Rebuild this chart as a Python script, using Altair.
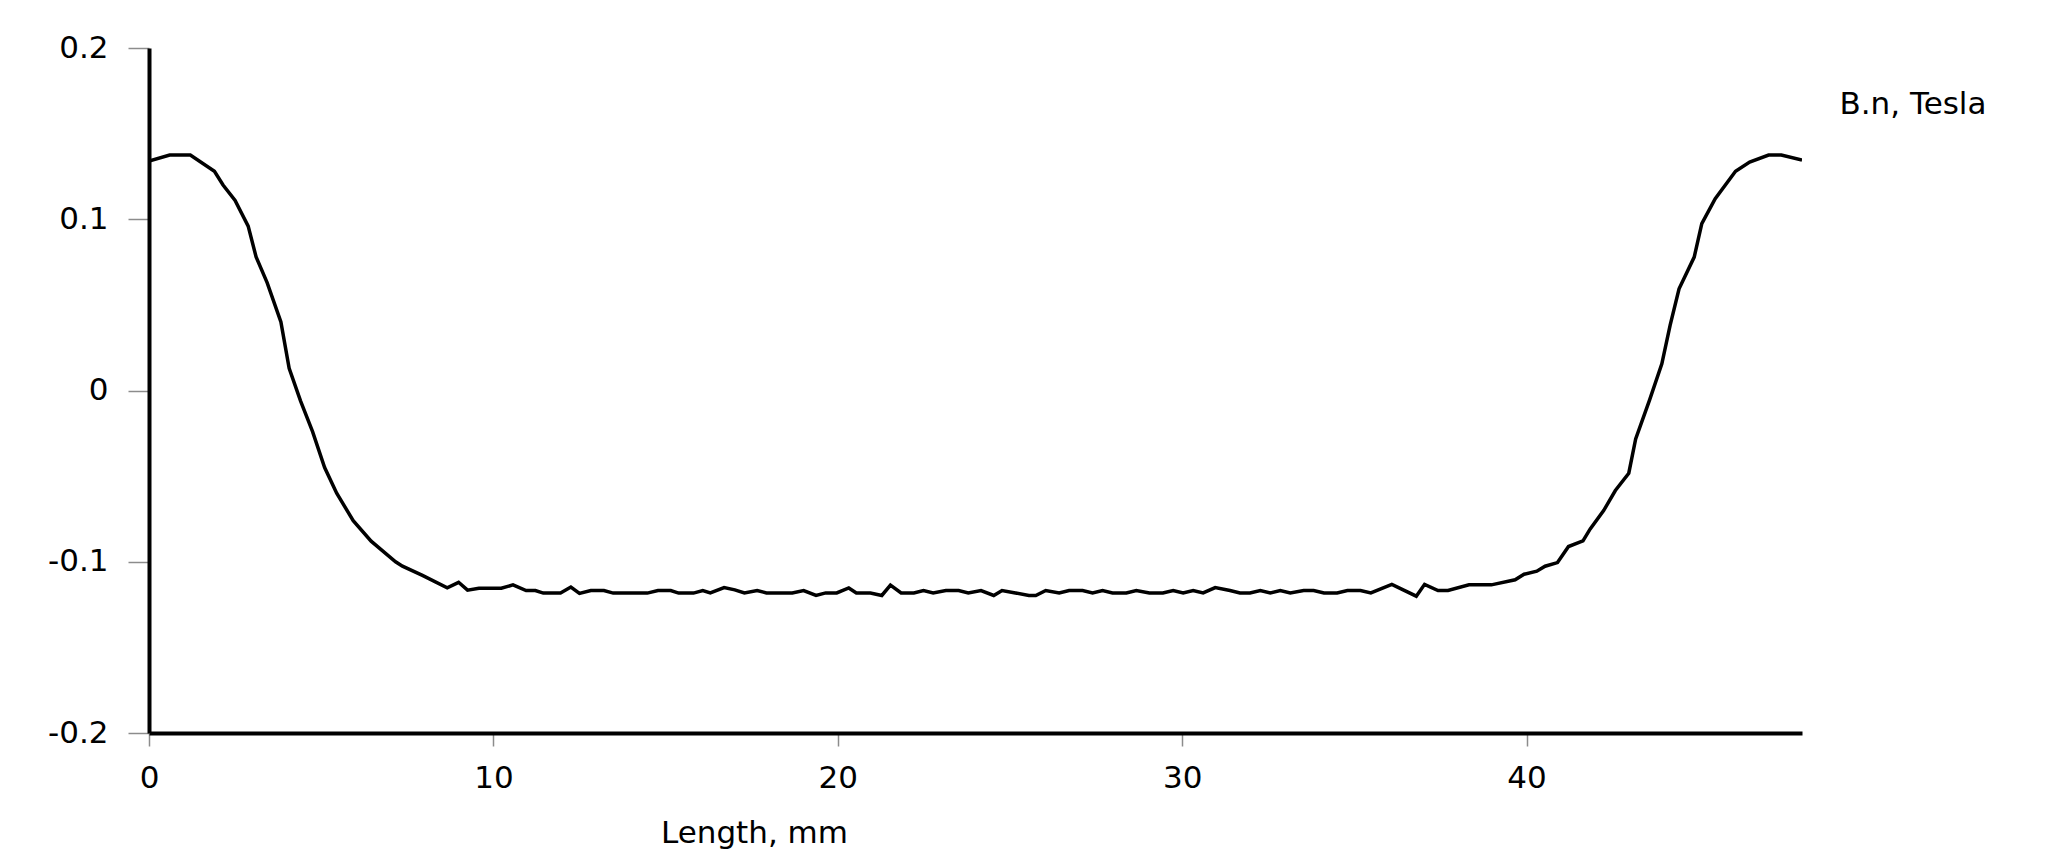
import altair as alt
import pandas as pd

length_mm = [
    0.0, 0.6, 1.2, 1.9, 2.15, 2.5, 2.88, 3.11, 3.43, 3.83, 4.07, 4.4, 4.75, 5.1, 5.45,
    5.93, 6.45, 7.16, 7.36, 7.94, 8.66, 8.99, 9.25, 9.58, 10.23, 10.57, 10.95, 11.22,
    11.45, 11.95, 12.25, 12.5, 12.83, 13.21, 13.48, 14.47, 14.78, 15.15, 15.38, 15.81,
    16.08, 16.3, 16.7, 17.01, 17.29, 17.66, 17.93, 18.68, 19.01, 19.37, 19.65, 19.97,
    20.32, 20.54, 20.95, 21.28, 21.53, 21.84, 22.21, 22.49, 22.77, 23.14, 23.51, 23.79,
    24.16, 24.53, 24.77, 25.16, 25.55, 25.75, 26.04, 26.43, 26.72, 27.11, 27.4, 27.69,
    27.98, 28.38, 28.67, 29.05, 29.44, 29.74, 30.03, 30.32, 30.61, 30.96, 31.39, 31.68,
    31.97, 32.27, 32.56, 32.85, 33.14, 33.53, 33.82, 34.12, 34.5, 34.8, 35.18, 35.48,
    36.09, 36.8, 37.04, 37.43, 37.72, 38.33, 38.98, 39.67, 39.93, 40.3, 40.54, 40.9,
    41.22, 41.64, 41.85, 42.24, 42.58, 42.97, 43.17, 43.57, 43.93, 44.17, 44.43, 44.87,
    45.09, 45.48, 46.07, 46.48, 47.03, 47.4, 48.0,
]
bn_tesla = [
    0.134, 0.1375, 0.1375, 0.128, 0.120, 0.111, 0.096, 0.078, 0.063, 0.040, 0.013, -0.006,
    -0.024, -0.045, -0.060, -0.076, -0.088, -0.100, -0.1026, -0.108, -0.1152, -0.112,
    -0.1166, -0.1155, -0.1155, -0.1135, -0.1168, -0.1168, -0.1183, -0.1183, -0.1148,
    -0.1185, -0.1168, -0.1168, -0.1183, -0.1183, -0.1168, -0.1168, -0.1183, -0.1183,
    -0.1168, -0.1182, -0.1151, -0.1164, -0.1182, -0.1168, -0.1182, -0.1182, -0.1168,
    -0.1197, -0.1182, -0.1182, -0.1153, -0.1182, -0.1182, -0.1197, -0.1136, -0.1182,
    -0.1182, -0.1168, -0.1182, -0.1168, -0.1168, -0.1182, -0.1168, -0.1197, -0.1168,
    -0.1182, -0.1197, -0.1197, -0.1168, -0.1182, -0.1168, -0.1168, -0.1182, -0.1168,
    -0.1182, -0.1182, -0.1168, -0.1182, -0.1182, -0.1168, -0.1182, -0.1168, -0.1182,
    -0.1151, -0.1168, -0.1182, -0.1182, -0.1168, -0.1182, -0.1168, -0.1182, -0.1168,
    -0.1168, -0.1182, -0.1182, -0.1168, -0.1168, -0.1182, -0.1132, -0.1201, -0.1132,
    -0.1168, -0.1168, -0.1135, -0.1135, -0.1105, -0.1073, -0.1055, -0.1026, -0.1005,
    -0.0911, -0.0878, -0.0808, -0.0701, -0.0584, -0.0483, -0.0283, -0.0058, 0.0156,
    0.038, 0.0594, 0.0779, 0.0974, 0.112, 0.128, 0.1334, 0.1375, 0.1375, 0.1345,
]

x_ticks = [0, 10, 20, 30, 40]
y_ticks = [-0.2, -0.1, 0, 0.1, 0.2]
x_title = "Length, mm"
y_title = "B.n, Tesla"

df = pd.DataFrame({"x": length_mm, "y": bn_tesla})

FONT = "DejaVu Sans"
FS = 31

chart = alt.Chart(df).mark_line(color="black", strokeWidth=3.5, clip=True).encode(
    x=alt.X(
        "x:Q",
        scale=alt.Scale(domain=[0, 48], nice=False, zero=False),
        axis=alt.Axis(
            values=x_ticks,
            title=x_title,
            grid=False,
            domainColor="black",
            domainWidth=4,
            tickColor="#8c8c8c",
            tickWidth=1.5,
            tickSize=13,
            labelFont=FONT,
            labelFontSize=FS,
            labelColor="black",
            labelBaseline="alphabetic",
            labelPadding=41,
            labelFlush=False,
            labelOverlap=False,
            titleFont=FONT,
            titleFontSize=FS,
            titleFontWeight="normal",
            titleColor="black",
            titleX=605,
            titleY=109,
            titleAlign="center",
            titleBaseline="alphabetic",
        ),
    ),
    y=alt.Y(
        "y:Q",
        scale=alt.Scale(domain=[-0.2, 0.2], nice=False, zero=False),
        axis=alt.Axis(
            values=y_ticks,
            title=y_title,
            grid=False,
            domainColor="black",
            domainWidth=4,
            tickColor="#8c8c8c",
            tickWidth=1.5,
            tickSize=21,
            labelFont=FONT,
            labelFontSize=FS,
            labelColor="black",
            labelPadding=20,
            labelFlush=False,
            labelOverlap=False,
            labelExpr="datum.value == 0 ? '0' : (datum.value < 0 ? '-' + format(-datum.value, '.1f') : format(datum.value, '.1f'))",
            titleFont=FONT,
            titleFontSize=FS,
            titleFontWeight="normal",
            titleColor="black",
            titleAngle=0,
            titleX=1690,
            titleY=65,
            titleAlign="left",
            titleBaseline="alphabetic",
        ),
    ),
).properties(
    width=1653,
    height=685,
    background="white",
    autosize=alt.AutoSizeParams(type="none"),
    padding={"left": 141, "top": 40, "right": 230, "bottom": 118},
).configure_view(strokeWidth=0, stroke="transparent")

chart.save("out.html", embed_options={"renderer": "svg", "actions": False})
